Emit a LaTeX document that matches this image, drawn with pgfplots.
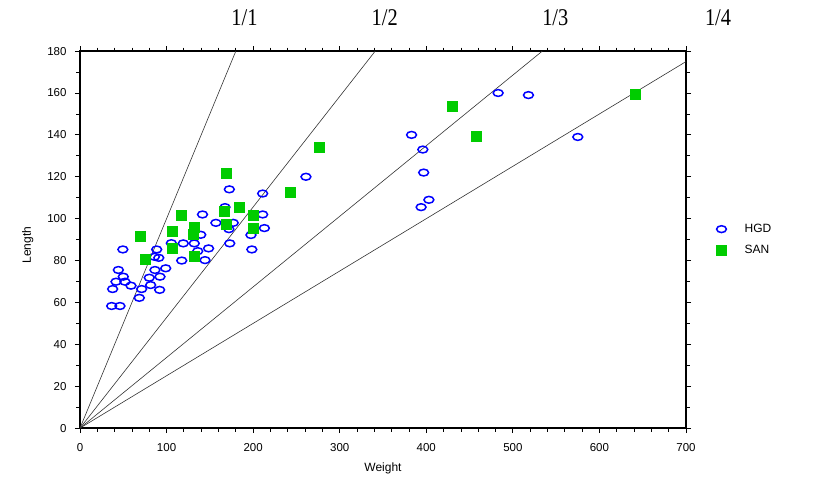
\documentclass[border=0pt]{standalone}
\usepackage{pgfplots}
\pgfplotsset{compat=1.18}
\usepackage{fontspec}
\setmainfont{Liberation Sans}
\newfontfamily\tickfont{Liberation Sans}
\newfontfamily\ratiofont[FakeStretch=0.85]{Liberation Serif}
\definecolor{hgdblue}{RGB}{0,0,255}
\definecolor{sangreen}{RGB}{0,204,0}
\begin{document}
\begin{tikzpicture}
\begin{axis}[
  scale only axis,
  width=606pt, height=377pt,
  xmin=0, xmax=700, ymin=0, ymax=180,
  xtick={0,100,...,700}, ytick={0,20,...,180},
  minor x tick num=4, minor y tick num=1,
  tick align=outside,
  major tick length=5pt, minor tick length=3.5pt,
  tick style={black, line width=0.8pt},
  axis line style={black, line width=1.3pt},
  /pgf/number format/assume math mode=true,
  ticklabel style={font=\tickfont\fontsize{11.5}{12}\selectfont},
  xticklabel style={yshift=-7pt},
  yticklabel style={xshift=-5pt},
  xlabel={Weight}, ylabel={Length},
  label style={font=\tickfont\fontsize{12}{13}\selectfont},
  xlabel style={at={(axis description cs:0.5,-0.108)}, anchor=center},
  ylabel style={at={(axis description cs:-0.086,0.485)}, anchor=center},
  clip=false,
  legend style={draw=none, fill=none, at={(axis description cs:1.0414,0.552)}, anchor=north west,
    font=\tickfont\fontsize{12}{13}\selectfont, row sep=6.7pt},
  legend cell align=left,
  legend image code/.code={\path (-7pt,0pt) (21pt,0pt); \draw[#1] plot coordinates {(0pt,0pt)};},
]
% reference lines
\addplot[forget plot, black!80, line width=0.6pt] coordinates {(0,0) (180,180)};
\addplot[forget plot, black!80, line width=0.6pt] coordinates {(0,0) (341,180)};
\addplot[forget plot, black!80, line width=0.6pt] coordinates {(0,0) (534,180)};
\addplot[forget plot, black!80, line width=0.6pt] coordinates {(0,0) (700,175)};
% HGD
\addplot[only marks, mark=o, mark size=3.4pt, hgdblue, mark options={xscale=1.45, line width=1.5pt}] coordinates {
(483,160) (518,159) (575,139) (383,140) (396,133) (397,122) (403,109) (394,105.5)
(261,120) (172.5,114) (211,112) (141.5,102) (167.5,105.5) (211,102) (157,98) (177,98)
(213,95.5) (197.5,92.2) (139.5,92.3) (173,88.2) (198.5,85.3) (148.5,85.8) (144.4,80.2)
(132,88.2) (119.3,88.2) (105.5,88.3) (136,84.5) (117.5,80) (88.6,85.3) (86,81.8) (91,81.3)
(49.5,85.3) (44.3,75.5) (86.6,75.5) (99,76.3) (50,72.3) (80,71.8) (92.4,72.3) (41.6,69.9)
(52,69.9) (58.9,68) (81.6,68.3) (92,66) (37.7,66.4) (71.2,66.4) (68.5,62.2) (36.6,58.3)
(46.2,58.3) (172,95)
};
\addlegendentry{HGD}
% SAN
\addplot[only marks, mark=square*, mark size=5pt, sangreen, mark options={draw=sangreen, fill=sangreen}] coordinates {
(69.3,91.5) (75,80.5) (106,85.7) (106.6,94.2) (117.3,101.6) (130.5,92.5) (132,96) (132,82.2)
(167,103.6) (169,121.5) (169.4,97.5) (184,105.6) (199.5,101.6) (200.5,95.6) (242.6,112.4)
(276,134.2) (430,153.9) (458,139.3) (641.5,159.3)
};
\addlegendentry{SAN}
% ratio labels
\node[font=\ratiofont\fontsize{24}{26}\selectfont] at (axis cs:190,196) {1/1};
\node[font=\ratiofont\fontsize{24}{26}\selectfont] at (axis cs:352,196) {1/2};
\node[font=\ratiofont\fontsize{24}{26}\selectfont] at (axis cs:549,196) {1/3};
\node[font=\ratiofont\fontsize{24}{26}\selectfont] at (axis cs:737,196) {1/4};
\coordinate (bl) at (axis cs:-92.4,-26.3);
\coordinate (tr) at (axis cs:861.7,204.4);
\end{axis}
\pgfresetboundingbox
\path[use as bounding box] (bl) rectangle (tr);
\end{tikzpicture}
\end{document}
